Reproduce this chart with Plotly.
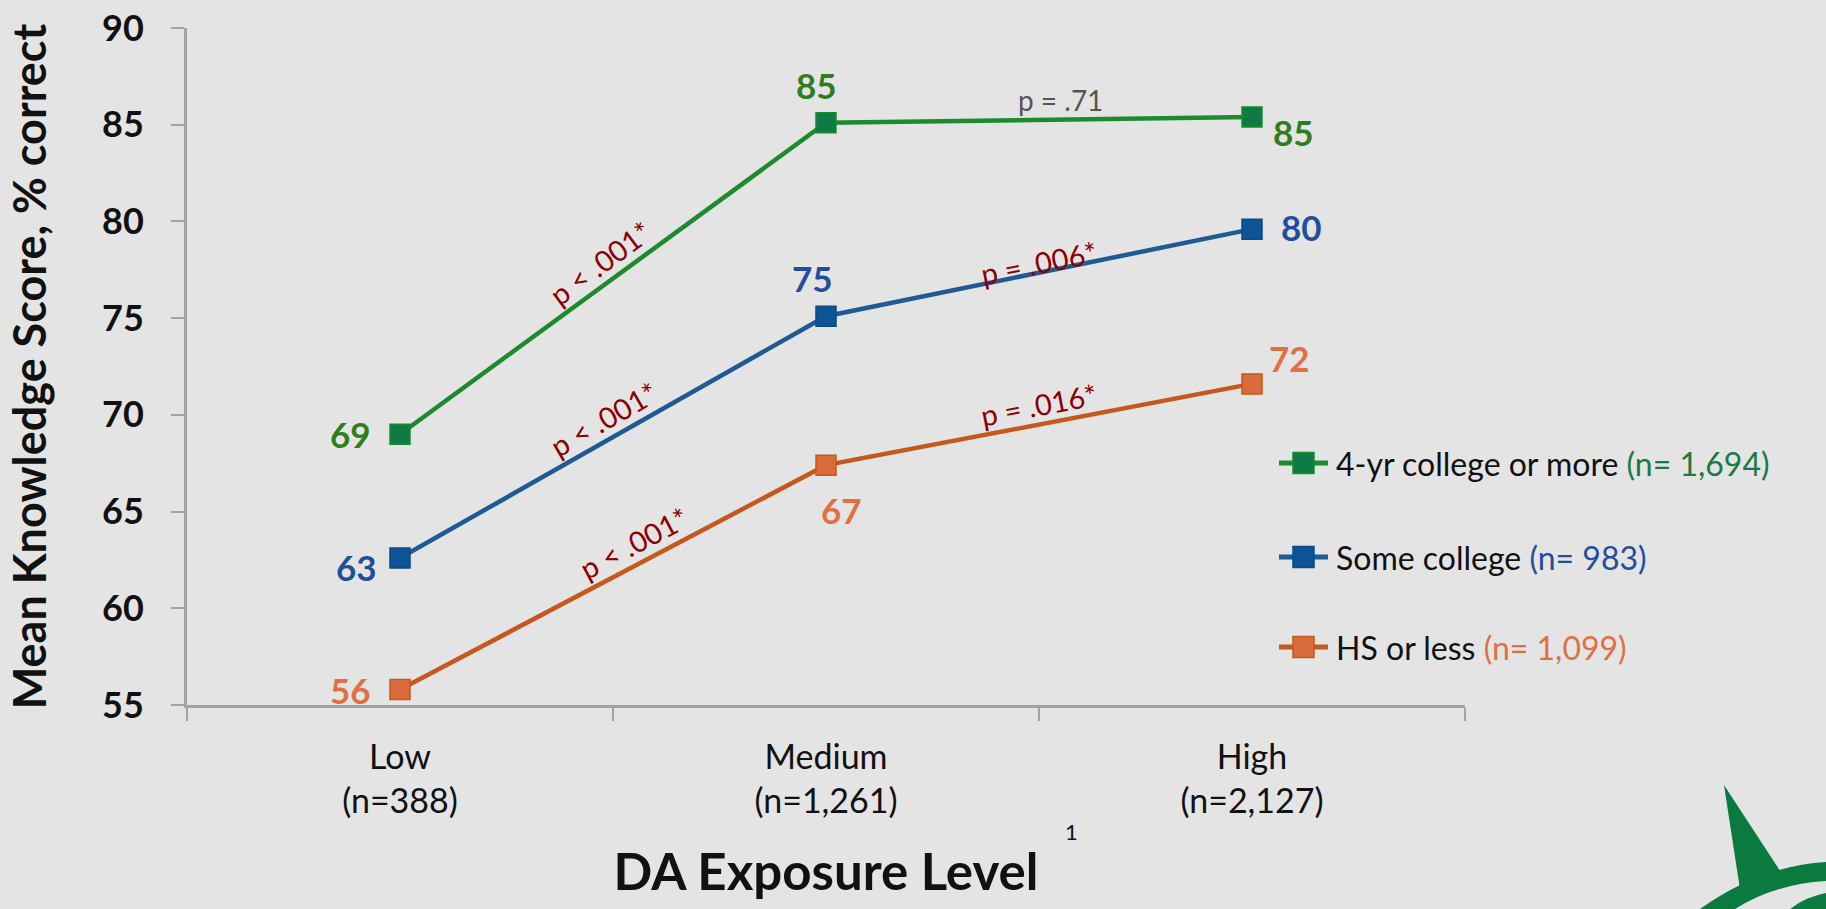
import plotly.graph_objects as go

# ---- data ----
categories = ["Low<br>(n=388)", "Medium<br>(n=1,261)", "High<br>(n=2,127)"]
series_names = ["4-yr college or more", "Some college", "HS or less"]
series_n = ["(n= 1,694)", "(n= 983)", "(n= 1,099)"]
college4 = [69.0, 85.1, 85.4]
some_college = [62.6, 75.1, 79.6]
hs_or_less = [55.8, 67.4, 71.6]

# p-values for each segment (Low->Medium, Medium->High)
p_college4 = ["p < .001*", "p = .71"]
p_some_college = ["p < .001*", "p = .006*"]
p_hs_or_less = ["p < .001*", "p = .016*"]

# ---- styling ----
W, H = 1826, 909
ML, MR, MT, MB = 187, 361, 28, 204
PW, PH = W - ML - MR, H - MT - MB
BG = "#e4e4e4"
AX = "#a3a3a3"
FONT = "Lato"

line_colors = ["#1e8a2e", "#1f5a94", "#c5581c"]
marker_colors = ["#0e7a45", "#0c5496", "#d96c3c"]
marker_edges = ["#1a8a2e", "#0a4a85", "#c55a11"]
label_colors = ["#2e7d1e", "#1f4e9a", "#e07040"]
values = [college4, some_college, hs_or_less]
pvals = [p_college4, p_some_college, p_hs_or_less]


def px_x(x):
    return (x - ML) / PW


def px_y(y):
    return (H - MB - y) / PH


fig = go.Figure()
for name, vals, lc, mc, me in zip(series_names, values, line_colors, marker_colors, marker_edges):
    fig.add_trace(go.Scatter(
        x=categories, y=vals, name=name, mode="lines+markers",
        line=dict(color=lc, width=4.5),
        marker=dict(symbol="square", size=20, color=mc, line=dict(color=me, width=1.5)),
        cliponaxis=False, showlegend=False, hoverinfo="skip",
    ))

annotations = []

# value labels next to each point (offsets in px: dx, dy-up)
label_offsets = [
    [(-50, 0), (-10, 38), (41, -15)],
    [(-44, -9), (-14, 38), (49, 2)],
    [(-50, 0), (15, -45), (37, 26)],
]
for vals, offs, col in zip(values, label_offsets, label_colors):
    for cat, v, (dx, dy) in zip(categories, vals, offs):
        annotations.append(dict(
            x=cat, y=v, xref="x", yref="y", text=f"{v:.0f}", showarrow=False,
            xshift=dx, yshift=dy, font=dict(family=FONT, size=35, color=col, weight="bold"),
        ))

# p-value labels placed along each segment (x in category units, y in data units, angle)
p_positions = [
    [(0.47, 77.9, -36.5, "#8b0000"), (1.55, 86.3, 0, "#555555")],
    [(0.48, 69.8, -30.0, "#8b0000"), (1.50, 77.9, -11.3, "#8b0000")],
    [(0.55, 63.4, -28.0, "#8b0000"), (1.50, 70.55, -10.8, "#8b0000")],
]
for ps, pos in zip(pvals, p_positions):
    for text, (xc, yc, ang, col) in zip(ps, pos):
        annotations.append(dict(
            x=xc, y=yc, xref="x", yref="y", text=text, showarrow=False,
            textangle=ang, font=dict(family=FONT, size=29 if ang else 28, color=col),
        ))

# legend rows drawn at the right of the plot
shapes = []
legend_rows = [463, 557, 647]
for name, n, row, lc, mc, me, tc in zip(series_names, series_n, legend_rows, line_colors,
                                         marker_colors, marker_edges, ["#1a7a45", "#1f4e9a", "#e07040"]):
    shapes.append(dict(type="line", xref="paper", yref="paper",
                       x0=px_x(1279), x1=px_x(1328), y0=px_y(row), y1=px_y(row),
                       line=dict(color=lc, width=5)))
    shapes.append(dict(type="rect", xref="paper", yref="paper",
                       x0=px_x(1293), x1=px_x(1314), y0=px_y(row + 10.5), y1=px_y(row - 10.5),
                       fillcolor=mc, line=dict(color=me, width=1.5)))
    annotations.append(dict(
        x=px_x(1334), y=px_y(row), xref="paper", yref="paper", xanchor="left", yanchor="middle",
        showarrow=False,
        text=f"{name} <span style='color:{tc};font-size:32px'>{n}</span>",
        font=dict(family=FONT, size=32, color="#111111"),
    ))

# footnote marker next to the axis title
annotations.append(dict(x=px_x(1080), y=px_y(847), xref="paper", yref="paper", text="1",
                        showarrow=False, font=dict(family=FONT, size=22, color="#111111")))

# corner emblem
def p(x, y):
    return f"{px_x(x):.5f},{px_y(y):.5f}"

emblem_paths = [
    f"M {p(1724, 785)} L {p(1741, 896)} L {p(1786, 880)} Z",
    f"M {p(1700, 909)} Q {p(1760, 866)} {p(1826, 862)} L {p(1826, 881)} Q {p(1775, 884)} {p(1735, 909)} Z",
    f"M {p(1790, 909)} Q {p(1805, 897)} {p(1826, 893)} L {p(1826, 909)} Z",
]
for d in emblem_paths:
    shapes.append(dict(type="path", xref="paper", yref="paper", path=d,
                       fillcolor="#0a7a3e", line=dict(width=0)))

fig.update_layout(
    width=W, height=H,
    margin=dict(l=ML, r=MR, t=MT, b=MB, autoexpand=False),
    paper_bgcolor=BG, plot_bgcolor=BG,
    font=dict(family=FONT, color="#111111"),
    showlegend=False,
    annotations=annotations,
    shapes=shapes,
    xaxis=dict(
        type="category", categoryorder="array", categoryarray=categories,
        range=[-0.5, 2.5], showgrid=False, zeroline=False,
        showline=True, linecolor=AX, linewidth=3,
        ticks="outside", tickson="boundaries", ticklen=13, tickcolor=AX, tickwidth=2,
        ticklabelstandoff=20,
        tickfont=dict(family=FONT, size=34, color="#111111"),
        title=dict(text="DA Exposure Level", standoff=36,
                   font=dict(family=FONT, size=51, color="#111111", weight="bold")),
        automargin=False,
    ),
    yaxis=dict(
        range=[55, 90], dtick=5, showgrid=False, zeroline=False,
        showline=True, linecolor=AX, linewidth=3,
        ticks="outside", ticklen=13, tickcolor=AX, tickwidth=2,
        ticklabelstandoff=20, ticklabeloverflow="allow",
        tickfont=dict(family=FONT, size=36, color="#111111", weight="bold"),
        title=dict(text="Mean Knowledge Score, % correct", standoff=42,
                   font=dict(family=FONT, size=45, color="#111111", weight="bold")),
        automargin=False,
    ),
)

fig.write_html("out.html")
